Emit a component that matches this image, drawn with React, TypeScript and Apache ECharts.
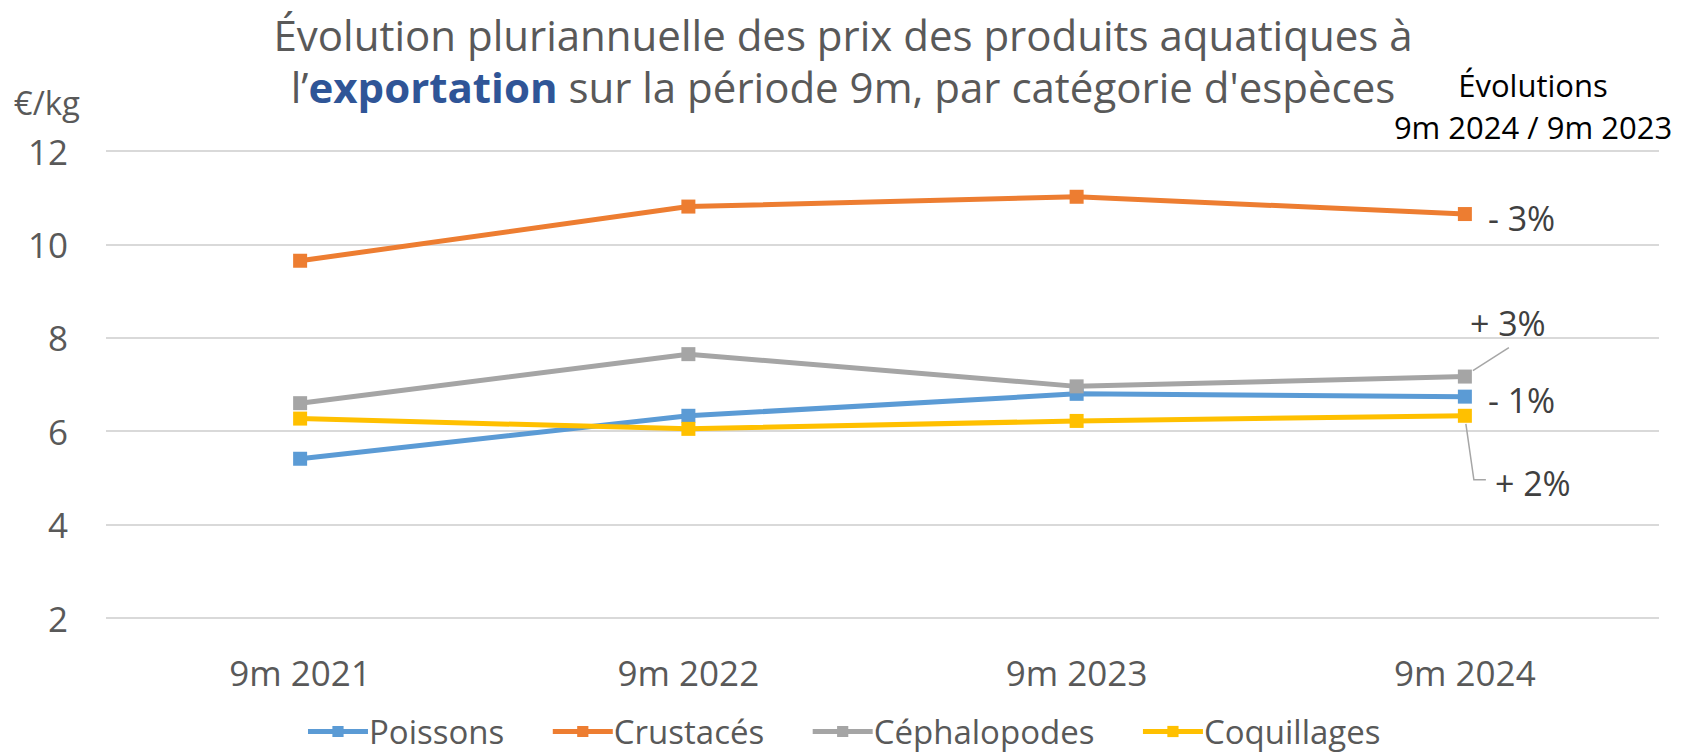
import React, { useEffect, useRef } from "react";
import * as echarts from "echarts";

const categories = ["9m 2021", "9m 2022", "9m 2023", "9m 2024"];
const seriesNames = ["Poissons", "Crustacés", "Céphalopodes", "Coquillages"];
const poissons = [5.41, 6.33, 6.8, 6.74];
const crustaces = [9.65, 10.81, 11.02, 10.65];
const cephalopodes = [6.6, 7.65, 6.96, 7.17];
const coquillages = [6.27, 6.05, 6.22, 6.33];
const colors = ["#5B9BD5", "#ED7D31", "#A5A5A5", "#FFC000"];
const evolutions = ["- 1%", "- 3%", "+ 3%", "+ 2%"];
const yTicks = { min: 2, max: 12, interval: 2 };

const FONT = "'Open Sans', 'Noto Sans', sans-serif";

export default function App() {
  const ref = useRef<HTMLDivElement>(null);
  useEffect(() => {
    document.body.style.margin = "0";
    if (!ref.current) return;
    const chart = echarts.init(ref.current, undefined, { renderer: "svg" });
    const values = [poissons, crustaces, cephalopodes, coquillages];
    const labelCfg = [
      { position: "right", distance: 16, offset: [0, 3] },
      { position: "right", distance: 16, offset: [0, 4] },
      { position: "right", distance: 5, offset: [-7, -54] },
      { position: "right", distance: 5, offset: [18, 67] },
    ];
    const series = values.map((vals, i) => ({
      name: seriesNames[i],
      type: "line",
      data: vals.map((v, j) =>
        j === vals.length - 1
          ? {
              value: v,
              label: {
                show: true,
                formatter: evolutions[i],
                position: labelCfg[i].position,
                distance: labelCfg[i].distance,
                offset: labelCfg[i].offset,
                fontSize: 34,
                color: "#404040",
                fontFamily: FONT,
              },
            }
          : v
      ),
      symbol: "rect",
      symbolSize: 14,
      lineStyle: { width: 5, color: colors[i] },
      itemStyle: { color: colors[i] },
      emphasis: { disabled: true },
      z: i === 2 ? 3 : 2,
    }));

    chart.setOption({
      animation: false,
      textStyle: { fontFamily: FONT },
      title: {
        text: "Évolution pluriannuelle des prix des produits aquatiques à\nl’{b|exportation} sur la période 9m, par catégorie d'espèces",
        left: "center",
        top: 8,
        padding: [0, 14, 0, 0],
        textStyle: {
          fontSize: 42,
          fontWeight: "normal",
          color: "#595959",
          lineHeight: 52,
          fontFamily: FONT,
          rich: {
            b: {
              fontSize: 42,
              fontWeight: "bold",
              color: "#2F5597",
              lineHeight: 52,
              fontFamily: FONT,
            },
          },
        },
      },
      grid: { left: 106, right: 27, top: 151, bottom: 136, containLabel: false },
      legend: {
        data: seriesNames,
        left: "center",
        top: 710,
        itemWidth: 60,
        itemHeight: 14,
        itemGap: 46,
        lineStyle: { width: 5 },
        textStyle: { fontSize: 33, color: "#595959", fontFamily: FONT, padding: [0, 0, 0, -4] },
      },
      xAxis: {
        type: "category",
        data: categories,
        boundaryGap: true,
        axisLine: { show: false },
        axisTick: { show: false },
        axisLabel: { fontSize: 35, color: "#595959", margin: 37, fontFamily: FONT },
      },
      yAxis: {
        type: "value",
        min: yTicks.min,
        max: yTicks.max,
        interval: yTicks.interval,
        name: "€/kg",
        nameLocation: "end",
        nameGap: 32,
        nameTextStyle: { fontSize: 33, color: "#595959", align: "right", padding: [0, 26, 0, 0], fontFamily: FONT },
        axisLine: { show: false },
        axisTick: { show: false },
        axisLabel: { fontSize: 35, color: "#595959", margin: 38, fontFamily: FONT },
        splitLine: { lineStyle: { color: "#D9D9D9", width: 2 } },
      },
      series,
    });

    const last = categories.length - 1;
    const pCeph = chart.convertToPixel({ xAxisIndex: 0, yAxisIndex: 0 }, [last, cephalopodes[last]]) as number[];
    const pCoq = chart.convertToPixel({ xAxisIndex: 0, yAxisIndex: 0 }, [last, coquillages[last]]) as number[];
    chart.setOption({
      graphic: [
        {
          type: "polyline",
          shape: { points: [[pCeph[0] + 8, pCeph[1] - 6], [pCeph[0] + 44, pCeph[1] - 29]] },
          style: { stroke: "#A6A6A6", lineWidth: 1.5, fill: "none" },
          z: 10,
        },
        {
          type: "polyline",
          shape: { points: [[pCoq[0] + 1, pCoq[1] + 8], [pCoq[0] + 9, pCoq[1] + 64], [pCoq[0] + 21, pCoq[1] + 64]] },
          style: { stroke: "#A6A6A6", lineWidth: 1.5, fill: "none" },
          z: 10,
        },
        {
          type: "text",
          x: 1533,
          y: 64,
          style: {
            text: "Évolutions\n9m 2024 / 9m 2023",
            fill: "#000000",
            fontSize: 31,
            lineHeight: 42,
            align: "center",
            fontFamily: FONT,
          },
        },
      ],
    });

    return () => chart.dispose();
  }, []);
  return <div ref={ref} style={{ width: 1686, height: 754 }} />;
}
